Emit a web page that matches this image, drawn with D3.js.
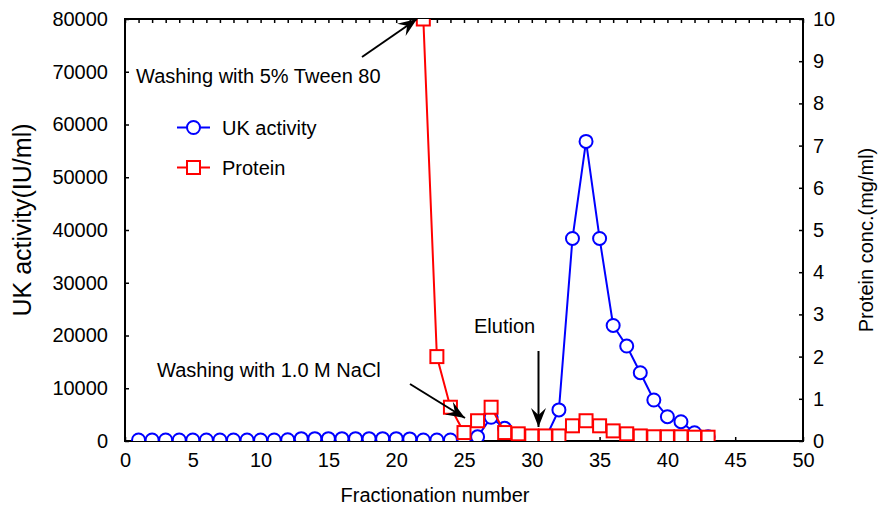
<!DOCTYPE html>
<html>
<head>
<meta charset="utf-8">
<script src="https://cdn.jsdelivr.net/npm/d3@7"></script>
<style>
  body { margin: 0; background: #fff; }
  text { font-family: "Liberation Sans", Arial, Helvetica, sans-serif; fill: #000; }
</style>
</head>
<body>
<svg id="chart" width="878" height="507"></svg>
<script>
// Fraction numbers and measured values
const ukFractions = [1, 2, 3, 4, 5, 6, 7, 8, 9, 10, 11, 12, 13, 14, 15, 16, 17, 18, 19, 20,
  21, 22, 23, 24, 25, 26, 27, 28, 29, 30, 31, 32, 33, 34, 35, 36, 37, 38, 39, 40, 41, 42, 43];
const ukActivity = [200, 200, 200, 200, 200, 200, 200, 200, 200, 200, 200, 250, 450, 450, 450, 450,
  450, 450, 450, 450, 400, 200, 200, 200, 200, 800, 4500, 2400, 1200, 600, 500, 5900, 38400, 56800,
  38400, 21900, 18000, 12950, 7770, 4610, 3660, 1570, 800];

const proteinFractions = [22, 23, 24, 25, 26, 27, 28, 29, 30, 31, 32, 33, 34, 35, 36, 37, 38, 39, 40, 41, 42, 43];
const proteinConc = [10, 2.0, 0.8, 0.2, 0.48, 0.8, 0.2, 0.17, 0.12, 0.12, 0.12, 0.36, 0.48, 0.36,
  0.24, 0.17, 0.12, 0.1, 0.1, 0.1, 0.09, 0.09];

const xTicks = [0, 5, 10, 15, 20, 25, 30, 35, 40, 45, 50];
const xMinorTicks = [0, 1, 2, 3, 4, 5, 6, 7, 8, 9, 10, 11, 12, 13, 14, 15, 16, 17, 18, 19, 20, 21, 22, 23, 24, 25,
  26, 27, 28, 29, 30, 31, 32, 33, 34, 35, 36, 37, 38, 39, 40, 41, 42, 43, 44, 45, 46, 47, 48, 49, 50];
const leftTicks = [0, 10000, 20000, 30000, 40000, 50000, 60000, 70000, 80000];
const rightTicks = [0, 1, 2, 3, 4, 5, 6, 7, 8, 9, 10];

const seriesNames = ["UK activity", "Protein"];

// Layout
const L = 125, R = 803, T = 19, B = 441;
const FS = 20;
const blue = "#0000ff", red = "#ff0000";

const svg = d3.select("#chart");

const x = d3.scaleLinear().domain([0, 50]).range([L, R]);
const yL = d3.scaleLinear().domain([0, 80000]).range([B, T]);
const yR = d3.scaleLinear().domain([0, 10]).range([B, T]);

function styleAxis(g) {
  g.select(".domain").remove();
  g.selectAll(".tick line").attr("stroke", "#000").attr("stroke-width", 1.5);
  g.selectAll(".tick text").attr("font-size", FS).attr("font-family", "Liberation Sans, Arial, sans-serif");
}

// Bottom axis
svg.append("g").attr("transform", `translate(0,${B})`)
  .call(d3.axisBottom(x).tickValues(xTicks).tickFormat(d3.format("d"))
    .tickSize(-4).tickSizeOuter(0).tickPadding(12))
  .call(styleAxis);

// Top minor ticks
svg.append("g").attr("transform", `translate(0,${T})`)
  .call(d3.axisTop(x).tickValues(xMinorTicks).tickFormat("")
    .tickSize(-4).tickSizeOuter(0))
  .call(styleAxis);

// Left axis
svg.append("g").attr("transform", `translate(${L},0)`)
  .call(d3.axisLeft(yL).tickValues(leftTicks).tickFormat(d3.format("d"))
    .tickSize(-4).tickSizeOuter(0).tickPadding(17))
  .call(styleAxis);

// Right axis
svg.append("g").attr("transform", `translate(${R},0)`)
  .call(d3.axisRight(yR).tickValues(rightTicks).tickFormat(d3.format("d"))
    .tickSize(-4).tickSizeOuter(0).tickPadding(10))
  .call(styleAxis);

// Frame
svg.append("rect")
  .attr("x", L).attr("y", T).attr("width", R - L).attr("height", B - T)
  .attr("fill", "none").attr("stroke", "#000").attr("stroke-width", 2);

// Axis titles
svg.append("text")
  .attr("x", 435).attr("y", 502)
  .attr("text-anchor", "middle").attr("font-size", FS)
  .text("Fractionation number");

svg.append("text")
  .attr("transform", `translate(31,220) rotate(-90)`)
  .attr("text-anchor", "middle").attr("font-size", 25)
  .text("UK activity(IU/ml)");

svg.append("text")
  .attr("transform", `translate(873,240) rotate(-90)`)
  .attr("text-anchor", "middle").attr("font-size", FS)
  .text("Protein conc.(mg/ml)");

// Data area, clipped to the frame
svg.append("clipPath").attr("id", "plotClip")
  .append("rect").attr("x", L).attr("y", T).attr("width", R - L).attr("height", B - T);

const plot = svg.append("g").attr("clip-path", "url(#plotClip)");

const ukData = ukFractions.map((f, i) => ({ f, v: ukActivity[i] }));
const protData = proteinFractions.map((f, i) => ({ f, v: proteinConc[i] }));

// UK activity series
plot.append("path").datum(ukData)
  .attr("fill", "none").attr("stroke", blue).attr("stroke-width", 2)
  .attr("d", d3.line().x(d => x(d.f)).y(d => yL(d.v)));
plot.append("g").selectAll("circle").data(ukData).join("circle")
  .attr("cx", d => x(d.f)).attr("cy", d => yL(d.v)).attr("r", 6.5)
  .attr("fill", "#fff").attr("stroke", blue).attr("stroke-width", 2);

// Protein series
const SQ = 13;
plot.append("path").datum(protData)
  .attr("fill", "none").attr("stroke", red).attr("stroke-width", 2)
  .attr("d", d3.line().x(d => x(d.f)).y(d => yR(d.v)));
plot.append("g").selectAll("rect").data(protData).join("rect")
  .attr("x", d => x(d.f) - SQ / 2).attr("y", d => yR(d.v) - SQ / 2)
  .attr("width", SQ).attr("height", SQ)
  .attr("fill", "#fff").attr("stroke", red).attr("stroke-width", 2);

// Legend
const legend = svg.append("g");
const legendRows = [
  { name: seriesNames[0], color: blue, y: 127.5, shape: "circle" },
  { name: seriesNames[1], color: red, y: 167.5, shape: "square" }
];
legendRows.forEach(r => {
  legend.append("line").attr("x1", 177).attr("x2", 210).attr("y1", r.y).attr("y2", r.y)
    .attr("stroke", r.color).attr("stroke-width", 2);
  if (r.shape === "circle") {
    legend.append("circle").attr("cx", 193.5).attr("cy", r.y).attr("r", 6.5)
      .attr("fill", "#fff").attr("stroke", r.color).attr("stroke-width", 2);
  } else {
    legend.append("rect").attr("x", 193.5 - SQ / 2).attr("y", r.y - SQ / 2)
      .attr("width", SQ).attr("height", SQ)
      .attr("fill", "#fff").attr("stroke", r.color).attr("stroke-width", 2);
  }
  legend.append("text").attr("x", 222).attr("y", r.y + 7).attr("font-size", FS).text(r.name);
});

// Annotations with arrows
const defs = svg.append("defs");
defs.append("marker").attr("id", "arrowHead")
  .attr("viewBox", "-20 -9 22 18").attr("refX", 0).attr("refY", 0)
  .attr("markerWidth", 22).attr("markerHeight", 18).attr("markerUnits", "userSpaceOnUse")
  .attr("orient", "auto")
  .append("path").attr("d", "M0,0 L-19,-7.5 L-12,0 L-19,7.5 Z").attr("fill", "#000");

const notes = [
  { text: "Washing with 5% Tween 80", tx: 136, ty: 83, from: [362, 57], to: [417, 19] },
  { text: "Washing with 1.0 M NaCl", tx: 157, ty: 377, from: [410, 384], to: [465, 418] },
  { text: "Elution", tx: 474, ty: 333, from: [538.5, 351], to: [538.5, 427] }
];
notes.forEach(n => {
  svg.append("text").attr("x", n.tx).attr("y", n.ty).attr("font-size", FS).text(n.text);
  svg.append("line")
    .attr("x1", n.from[0]).attr("y1", n.from[1]).attr("x2", n.to[0]).attr("y2", n.to[1])
    .attr("stroke", "#000").attr("stroke-width", 2)
    .attr("marker-end", "url(#arrowHead)");
});
</script>
</body>
</html>
